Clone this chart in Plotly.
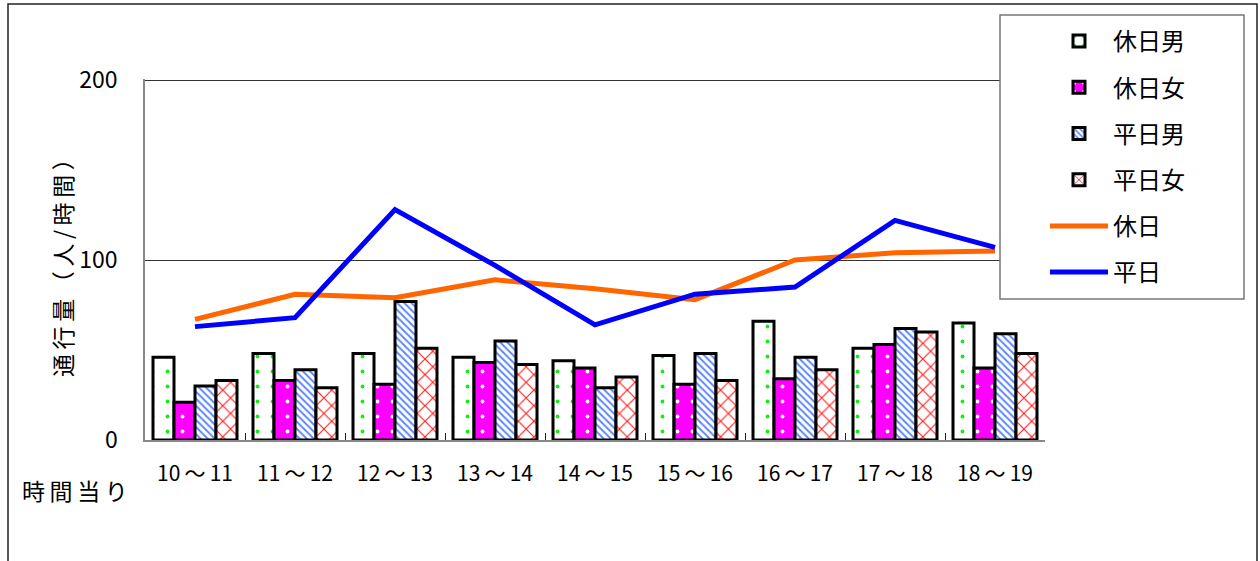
import plotly.graph_objects as go

categories = ["10～11", "11～12", "12～13", "13～14", "14～15", "15～16", "16～17", "17～18", "18～19"]
holiday_male = [46, 48, 48, 46, 44, 47, 66, 51, 65]
holiday_female = [21, 33, 31, 43, 40, 31, 34, 53, 40]
weekday_male = [30, 39, 77, 55, 29, 48, 46, 62, 59]
weekday_female = [33, 29, 51, 42, 35, 33, 39, 60, 48]
holiday_total = [67, 81, 79, 89, 84, 78, 100, 104, 105]
weekday_total = [63, 68, 128, 97, 64, 81, 85, 122, 107]
y_ticks = [0, 100, 200]

FONT = "Noto Sans CJK JP"
TS = "\u2009"

fig = go.Figure()

bar_specs = [
    ("休日男", holiday_male, dict(shape=".", fgcolor="#11ee11", bgcolor="white", size=15, solidity=0.05)),
    ("休日女", holiday_female, dict(shape=".", fgcolor="white", bgcolor="#ff00ff", size=15, solidity=0.05)),
    ("平日男", weekday_male, dict(shape="\\", fgcolor="#5b86ff", bgcolor="white", size=5, solidity=0.4)),
    ("平日女", weekday_female, dict(shape="x", fgcolor="#ff2020", bgcolor="white", size=11, solidity=0.2)),
]
for i, (name, vals, pat) in enumerate(bar_specs):
    fig.add_trace(go.Bar(
        x=categories, y=vals, name=name, legendgroup=f"g{i}",
        marker=dict(color="white", pattern=dict(fillmode="replace", **pat),
                    line=dict(color="black", width=3)),
    ))

fig.add_trace(go.Scatter(x=categories, y=holiday_total, name="休日", mode="lines",
                         legendgroup="g4", line=dict(color="#ff6600", width=5)))
fig.add_trace(go.Scatter(x=categories, y=weekday_total, name="平日", mode="lines",
                         legendgroup="g5", line=dict(color="#0000ff", width=5)))

L, R, T, B = 145, 215, 79, 121
W, H = 1260, 561
pw, ph = W - L - R, H - T - B


def px(x):
    return (x - L) / pw


def py(y):
    return (H - B - y) / ph


fig.update_layout(
    width=W, height=H,
    margin=dict(l=L, r=R, t=T, b=B),
    paper_bgcolor="white", plot_bgcolor="white",
    font=dict(family=FONT, color="black", size=20),
    barmode="group", bargap=0.16, bargroupgap=0,
    showlegend=True,
    legend=dict(
        x=px(1045), y=py(19), xanchor="left", yanchor="top",
        bgcolor="rgba(0,0,0,0)", borderwidth=0,
        font=dict(family=FONT, size=24, color="black"),
        tracegroupgap=12, traceorder="grouped",
        itemwidth=58, maxheight=500,
    ),
    xaxis=dict(
        type="category", showline=True, linecolor="#888888", linewidth=2,
        ticks="inside", tickson="boundaries", ticklen=7, tickcolor="#222222", tickwidth=1,
        tickvals=categories,
        ticktext=[c.replace("～", TS + "～" + TS) for c in categories],
        tickfont=dict(family=FONT, size=21), ticklabelstandoff=14,
        showgrid=False, zeroline=False,
    ),
    yaxis=dict(
        range=[0, 200.6], tickvals=y_ticks, showline=True, linecolor="#888888", linewidth=1.5,
        showgrid=True, gridcolor="#333333", gridwidth=1, zeroline=False,
        ticks="", tickfont=dict(family=FONT, size=23), ticklabelstandoff=21,
    ),
    shapes=[
        dict(type="rect", xref="paper", yref="paper",
             x0=px(8), x1=px(1257), y0=py(580), y1=py(4),
             line=dict(color="#222222", width=1.5), layer="below"),
        dict(type="rect", xref="paper", yref="paper",
             x0=px(1000), x1=px(1244), y0=py(299), y1=py(15),
             fillcolor="white", line=dict(color="#777777", width=1.5), layer="above"),
    ],
    annotations=[
        dict(text=TS.join("通行量（人/時間）"), xref="paper", yref="paper", x=px(62), y=py(262),
             showarrow=False, textangle=-90, font=dict(family=FONT, size=23),
             xanchor="center", yanchor="middle"),
        dict(text=TS.join("時間当り"), xref="paper", yref="paper", x=px(75), y=py(490),
             showarrow=False, font=dict(family=FONT, size=23),
             xanchor="center", yanchor="middle"),
    ],
)

fig.write_html("out.html", config={"displayModeBar": False},
               post_script="document.body.style.margin='0px';")
